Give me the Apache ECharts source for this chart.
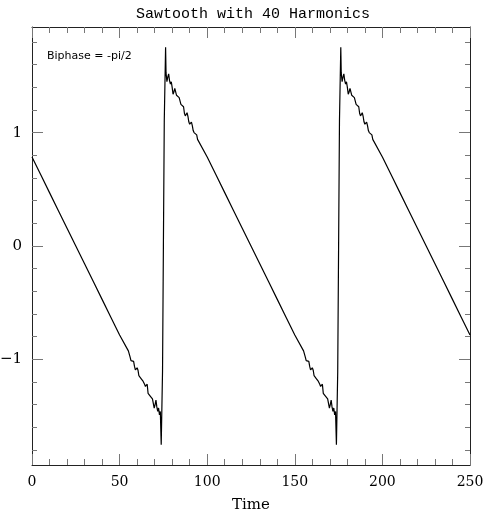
<!DOCTYPE html>
<html>
<head>
<meta charset="utf-8">
<script src="https://cdn.jsdelivr.net/npm/echarts@6/dist/echarts.min.js"></script>
<style>
  html, body { margin: 0; padding: 0; background: #fff; }
  #chart { width: 485px; height: 512px; }
</style>
</head>
<body>
<div id="chart"></div>
<script>
// samples (coarse on the straight ramps, fine around the jumps)
const time = [
  0, 5, 10, 15, 20, 25, 30, 35, 40, 45, 50,
  55, 55.5, 56, 56.5, 57, 57.5, 58, 58.5, 59, 59.5, 60, 60.5, 61,
  61.75, 62.25, 62.75, 63.25, 63.75, 64.25, 64.75, 65.25, 65.75, 66.25,
  66.75, 67.25, 67.75, 68.25, 68.75, 69.25, 69.75, 70.25, 70.75, 71.25,
  71.75, 72.25, 72.75, 73.25, 73.75, 74.5,
  75,
  75.5, 76.25, 76.5, 77, 77.5, 78, 78.5, 79, 79.5, 80,
  80.5, 81, 81.5, 82, 82.5, 83, 83.5, 84, 84.5, 85,
  85.5, 86, 86.5, 87, 87.5, 88, 88.5, 89, 89.5, 90,
  90.5, 91, 91.5, 92, 92.5, 93, 93.5, 94, 94.5, 95,
  100, 105, 110, 115, 120, 125, 130, 135, 140, 145, 150,
  155, 155.5, 156, 156.5, 157, 157.5, 158, 158.5, 159, 159.5, 160, 160.5, 161,
  161.75, 162.25, 162.75, 163.25, 163.75, 164.25, 164.75, 165.25, 165.75, 166.25,
  166.75, 167.25, 167.75, 168.25, 168.75, 169.25, 169.75, 170.25, 170.75, 171.25,
  171.75, 172.25, 172.75, 173.25, 173.75, 174.5,
  175,
  175.5, 176.25, 176.5, 177, 177.5, 178, 178.5, 179, 179.5, 180,
  180.5, 181, 181.5, 182, 182.5, 183, 183.5, 184, 184.5, 185,
  185.5, 186, 186.5, 187, 187.5, 188, 188.5, 189, 189.5, 190,
  190.5, 191, 191.5, 192, 192.5, 193, 193.5, 194, 194.5, 195,
  200, 205, 210, 215, 220, 225, 230, 235, 240, 245, 250
];

const amplitude = [
  0.785, 0.628, 0.471, 0.314, 0.157, 0, -0.157, -0.314, -0.471, -0.628, -0.785,
  -0.926, -0.941, -0.981, -1.012, -1.011, -1.001, -1.019, -1.063, -1.094, -1.088, -1.075, -1.096, -1.145,
  -1.15, -1.17, -1.18, -1.19, -1.20, -1.22, -1.24, -1.23, -1.22, -1.30,
  -1.31, -1.32, -1.33, -1.33, -1.35, -1.34, -1.43, -1.40, -1.36, -1.42,
  -1.46, -1.43, -1.49, -1.46, -1.755, -1.11,
  0,
  1.11, 1.755, 1.53, 1.45, 1.49, 1.52, 1.46, 1.43, 1.45, 1.40,
  1.34, 1.36, 1.39, 1.36, 1.33, 1.34, 1.33, 1.31, 1.30, 1.25,
  1.242, 1.260, 1.229, 1.172, 1.148, 1.165, 1.176, 1.145, 1.096, 1.075,
  1.088, 1.094, 1.063, 1.019, 1.001, 1.011, 1.012, 0.981, 0.941, 0.926,
  0.785, 0.628, 0.471, 0.314, 0.157, 0, -0.157, -0.314, -0.471, -0.628, -0.785,
  -0.926, -0.941, -0.981, -1.012, -1.011, -1.001, -1.019, -1.063, -1.094, -1.088, -1.075, -1.096, -1.145,
  -1.15, -1.17, -1.18, -1.19, -1.20, -1.22, -1.24, -1.23, -1.22, -1.30,
  -1.31, -1.32, -1.33, -1.33, -1.35, -1.34, -1.43, -1.40, -1.36, -1.42,
  -1.46, -1.43, -1.49, -1.46, -1.755, -1.11,
  0,
  1.11, 1.755, 1.53, 1.45, 1.49, 1.52, 1.46, 1.43, 1.45, 1.40,
  1.34, 1.36, 1.39, 1.36, 1.33, 1.34, 1.33, 1.31, 1.30, 1.25,
  1.242, 1.260, 1.229, 1.172, 1.148, 1.165, 1.176, 1.145, 1.096, 1.075,
  1.088, 1.094, 1.063, 1.019, 1.001, 1.011, 1.012, 0.981, 0.941, 0.926,
  0.785, 0.628, 0.471, 0.314, 0.157, 0, -0.157, -0.314, -0.471, -0.628, -0.785
];

const yMajorTicks = [-1, 0, 1];
const yMinorTicks = [-1.8, -1.6, -1.4, -1.2, -0.8, -0.6, -0.4, -0.2,
  0.2, 0.4, 0.6, 0.8, 1.2, 1.4, 1.6, 1.8];

const yMin = -1.933;
const yMax = 1.933;

const frameColor = '#222';
const tickColor = '#777';
const serif = 'DejaVu Serif, Liberation Serif, serif';

function xAxisFor(position, withLabels) {
  return {
    type: 'value',
    position: position,
    min: 0,
    max: 250,
    interval: 50,
    splitLine: { show: false },
    axisLine: { show: true, onZero: false, lineStyle: { color: frameColor, width: 1 } },
    axisTick: { show: true, inside: true, length: 11, lineStyle: { color: tickColor } },
    minorTick: { show: true, splitNumber: 5, length: 6, lineStyle: { color: tickColor } },
    axisLabel: {
      show: withLabels,
      margin: 10,
      color: '#000',
      fontFamily: serif,
      fontSize: 14,
    },
    name: withLabels ? 'Time' : '',
    nameLocation: 'middle',
    nameGap: 33,
    nameTextStyle: { color: '#000', fontFamily: serif, fontSize: 15 },
  };
}

function yAxisFor(position, ticks, len, withLine, withLabels) {
  return {
    type: 'value',
    position: position,
    min: yMin,
    max: yMax,
    splitLine: { show: false },
    axisLine: { show: withLine, onZero: false, lineStyle: { color: frameColor, width: 1 } },
    axisTick: { show: true, inside: true, length: len, customValues: ticks, lineStyle: { color: tickColor } },
    axisLabel: {
      show: withLabels,
      customValues: yMajorTicks,
      margin: 10,
      color: '#000',
      fontFamily: serif,
      fontSize: 15,
      formatter: (v) => String(v).replace('-', '\u2212'),
    },
  };
}

const chart = echarts.init(document.getElementById('chart'), null, { renderer: 'canvas' });

chart.setOption({
  animation: false,
  backgroundColor: '#fff',
  title: [
    {
      text: 'Sawtooth with 40 Harmonics',
      left: 131,
      top: 2,
      textStyle: {
        fontFamily: 'Liberation Mono, DejaVu Sans Mono, monospace',
        fontSize: 15,
        fontWeight: 'normal',
        color: '#000',
      },
    },
    {
      text: 'Biphase = -pi/2',
      left: 42,
      top: 46,
      textStyle: {
        fontFamily: 'DejaVu Sans, sans-serif',
        fontSize: 11,
        fontWeight: 'normal',
        color: '#000',
      },
    },
  ],
  grid: { left: 32, right: 15, top: 27, bottom: 47, containLabel: false, outerBoundsMode: 'none' },
  xAxis: [xAxisFor('bottom', true), xAxisFor('top', false)],
  yAxis: [
    yAxisFor('left', yMajorTicks, 11, true, true),
    yAxisFor('left', yMinorTicks, 5, false, false),
    yAxisFor('right', yMajorTicks, 11, true, false),
    yAxisFor('right', yMinorTicks, 5, false, false),
  ],
  series: [
    {
      type: 'line',
      xAxisIndex: 0,
      yAxisIndex: 0,
      data: time.map((t, i) => [t, amplitude[i]]),
      showSymbol: false,
      smooth: false,
      lineStyle: { color: '#000', width: 1.2 },
    },
  ],
});
</script>
</body>
</html>
